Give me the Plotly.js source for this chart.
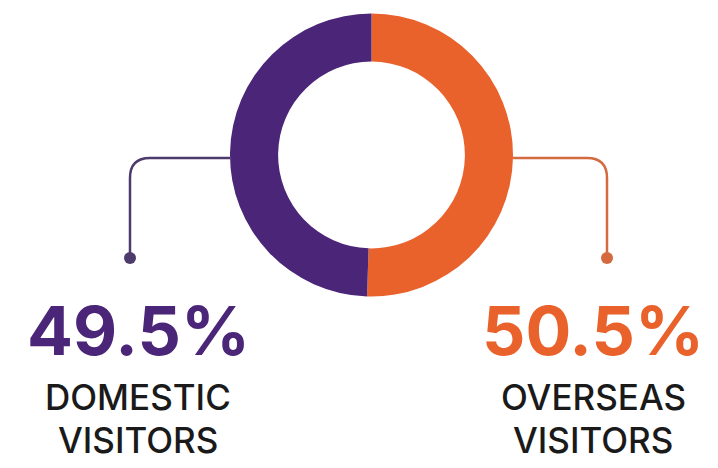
<!DOCTYPE html>
<html>
<head>
<meta charset="utf-8">
<script src="https://cdn.plot.ly/plotly-3.0.1.min.js"></script>
<style>html,body{margin:0;padding:0;background:#fff;}#chart{width:718px;height:468px;}</style>
</head>
<body>
<div id="chart"></div>
<script>
// Data
const categories = ["OVERSEAS VISITORS", "DOMESTIC VISITORS"];
const shares = [50.5, 49.5];
const colors = ["#e9622b", "#4b2578"];
const valueLabels = ["50.5%", "49.5%"];
const labelLine1 = ["OVERSEAS", "DOMESTIC"];
const labelLine2 = ["VISITORS", "VISITORS"];

const W = 718, H = 468;
const cx = 371.5, cy = 155, R = 141.5;

const pie = {
  type: "pie",
  labels: categories,
  values: shares,
  marker: {colors: colors, line: {width: 0}},
  hole: 0.66,
  sort: false,
  direction: "clockwise",
  rotation: 0,
  textinfo: "none",
  hoverinfo: "label+percent",
  showlegend: false,
  domain: {x: [(cx - R) / W, (cx + R) / W], y: [1 - (cy + R) / H, 1 - (cy - R) / H]}
};

// helper trace to set up pixel axes
const dummy = {type: "scatter", x: [0, W], y: [0, H], mode: "none", hoverinfo: "skip", showlegend: false};

const lineCols = ["#d46a3f", "#4d3b6c"];
const textCenters = [593, 138];

const shapes = [
  {type: "path", xref: "x", yref: "y", path: "M 230 158 L 150 158 Q 130 158 130 178 L 130 258", line: {color: lineCols[1], width: 2.5}},
  {type: "circle", xref: "x", yref: "y", x0: 124, x1: 136, y0: 252, y1: 264, fillcolor: lineCols[1], line: {width: 0}},
  {type: "path", xref: "x", yref: "y", path: "M 513 158 L 587 158 Q 607 158 607 178 L 607 258", line: {color: lineCols[0], width: 2.5}},
  {type: "circle", xref: "x", yref: "y", x0: 601, x1: 613, y0: 252, y1: 264, fillcolor: lineCols[0], line: {width: 0}}
];

const annotations = [];
for (let i = 0; i < categories.length; i++) {
  annotations.push({xref: "x", yref: "y", x: textCenters[i], y: 330, text: valueLabels[i], showarrow: false,
    xanchor: "center", yanchor: "middle", font: {family: "Inter", size: 68, color: colors[i], weight: 700}});
  annotations.push({xref: "x", yref: "y", x: textCenters[i], y: 396.5, text: labelLine1[i], showarrow: false,
    xanchor: "center", yanchor: "middle", font: {family: "Inter", size: 35, color: "#1a1a1a", weight: 500}});
  annotations.push({xref: "x", yref: "y", x: textCenters[i], y: 439.5, text: labelLine2[i], showarrow: false,
    xanchor: "center", yanchor: "middle", font: {family: "Inter", size: 35, color: "#1a1a1a", weight: 500}});
}

const layout = {
  width: W, height: H,
  margin: {l: 0, r: 0, t: 0, b: 0},
  paper_bgcolor: "#ffffff", plot_bgcolor: "rgba(0,0,0,0)",
  xaxis: {range: [0, W], visible: false, fixedrange: true},
  yaxis: {range: [H, 0], visible: false, fixedrange: true},
  shapes: shapes,
  annotations: annotations,
  showlegend: false
};

Plotly.newPlot("chart", [dummy, pie], layout, {displayModeBar: false, staticPlot: true});
</script>
</body>
</html>
